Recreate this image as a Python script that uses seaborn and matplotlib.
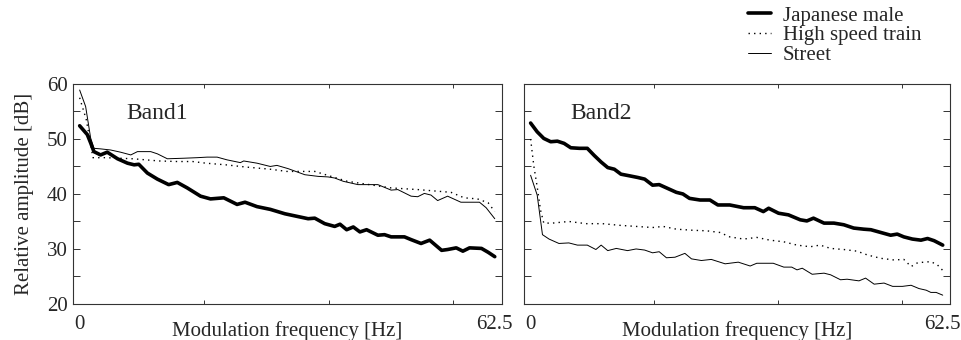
import numpy as np
import pandas as pd
import matplotlib
matplotlib.use("Agg")
import matplotlib.pyplot as plt
import seaborn as sns
from matplotlib.lines import Line2D

sns.set_style("ticks")
plt.rcParams['font.family'] = ['Liberation Serif', 'DejaVu Serif']

# Band1 curves (modulation frequency in Hz, relative amplitude in dB)
band1_male_f = [0, 1.15, 1.65, 2.15, 3.15, 4.15, 5.7, 7.2, 8.2, 8.9, 10.2, 11.7, 13.4, 14.7, 16.2,
                18.2, 19.7, 21.7, 23.7, 24.9, 26.7, 28.7, 30.9, 34.4, 35.4, 36.9, 38.4, 39.2, 40.2,
                41.2, 42.2, 43.2, 44.9, 45.9, 46.9, 48.9, 49.9, 51.4, 52.7, 54.5, 55.4, 56.7, 57.7,
                58.7, 60.5, 61.5, 62.5]
band1_male_db = [52.4, 50.8, 49.3, 47.7, 47.1, 47.6, 46.4, 45.6, 45.3, 45.4, 43.8, 42.7, 41.7, 42.1, 41.1,
                 39.6, 39.1, 39.3, 38.1, 38.5, 37.7, 37.2, 36.4, 35.5, 35.6, 34.6, 34.1, 34.5, 33.5,
                 34.0, 33.1, 33.5, 32.5, 32.6, 32.2, 32.2, 31.7, 31.0, 31.6, 29.75, 29.9, 30.2, 29.6,
                 30.2, 30.1, 29.4, 28.6]

band1_train_f = [0, 1.0, 2.0, 4, 6, 8, 10, 12, 14.7, 17, 19, 22, 25, 28.7, 31.2, 35.4, 40.3, 46.9,
                 50.9, 53.9, 55.9, 57.9, 59.9, 61.5, 62.5]
band1_train_db = [57.5, 53.5, 46.6, 46.6, 46.5, 46.4, 46.2, 46.0, 45.9, 45.9, 45.6, 45.3, 44.9, 44.5,
                  44.1, 44.1, 42.3, 41.1, 40.8, 40.5, 40.3, 39.3, 39.1, 38.4, 36.8]

band1_street_f = [0, 0.9, 1.65, 2.15, 3.15, 4.65, 6.15, 7.7, 8.7, 10.7, 11.7, 13.2, 15.7, 17.7, 19.2,
                  20.7, 22.2, 24.2, 24.7, 26.7, 28.7, 29.7, 31.4, 33.9, 35.9, 37.4, 38.4, 39.7, 41.9,
                  44.9, 46.9, 47.9, 49.9, 50.9, 51.9, 52.9, 53.9, 55.4, 57.4, 60.2, 61.2, 62.5]
band1_street_db = [58.9, 55.9, 50.2, 48.3, 48.2, 48.0, 47.6, 47.1, 47.7, 47.7, 47.3, 46.4, 46.5, 46.6, 46.7,
                   46.7, 46.2, 45.7, 46.0, 45.6, 45.0, 45.2, 44.6, 43.5, 43.2, 43.1, 42.9, 42.3, 41.7,
                   41.7, 40.7, 40.8, 39.6, 39.5, 40.1, 39.8, 38.8, 39.6, 38.5, 38.5, 37.5, 35.5]

# Band2 curves
band2_male_f = [0, 1.0, 2.0, 3.05, 4.06, 5.08, 6.1, 7.4, 8.6, 9.65, 10.7, 11.7, 12.7, 13.7, 15.0, 16.25,
                17.3, 18.5, 19.5, 20.8, 22.1, 23.1, 24.1, 25.7, 27.2, 28.4, 30.2, 32.3, 34.0, 35.3,
                36.1, 37.6, 39.1, 40.9, 41.9, 42.9, 44.5, 46.0, 47.5, 49.0, 50.5, 51.6, 53.1, 54.6,
                55.6, 56.6, 57.9, 59.2, 60.2, 61.2, 62.5]
band2_male_db = [52.9, 51.3, 50.1, 49.5, 49.6, 49.2, 48.4, 48.3, 48.3, 47.0, 45.8, 44.8, 44.5, 43.6, 43.3, 43.0,
                 42.7, 41.6, 41.7, 41.0, 40.3, 40.0, 39.2, 38.9, 38.9, 38.0, 38.0, 37.5, 37.5, 36.8,
                 37.4, 36.5, 36.2, 35.3, 35.1, 35.6, 34.7, 34.7, 34.4, 33.8, 33.6, 33.5, 33.0, 32.5,
                 32.7, 32.2, 31.8, 31.6, 31.9, 31.5, 30.7]

band2_train_f = [0, 0.5, 1.0, 1.5, 2.0, 3.3, 5.8, 8.4, 10.9, 13.5, 16.0, 18.5, 20.1, 22.1, 24.6, 26.7,
                 28.7, 30.2, 32.3, 34.3, 36.3, 38.4, 40.4, 42.4, 43.9, 45.5, 47.5, 49.5, 51.1, 53.1,
                 55.1, 56.6, 57.7, 58.7, 60.7, 61.7, 62.5]
band2_train_db = [50.0, 45.0, 41.3, 37.1, 34.7, 34.7, 35.0, 34.6, 34.6, 34.3, 34.1, 33.9, 34.1, 33.6, 33.4, 33.3,
                  33.0, 32.2, 31.8, 32.1, 31.6, 31.3, 30.7, 30.4, 30.7, 30.1, 29.9, 29.6, 28.9, 28.3,
                  28.0, 28.1, 26.8, 27.5, 27.7, 27.1, 26.1]

band2_street_f = [0, 1.0, 1.8, 2.8, 4.3, 5.8, 7.1, 8.6, 9.9, 10.7, 11.7, 13.0, 14.7, 16.0, 17.3, 18.5,
                  19.5, 20.6, 21.9, 23.4, 24.4, 25.9, 27.4, 29.5, 31.5, 33.3, 34.3, 36.8, 38.4, 39.6,
                  40.4, 41.2, 42.7, 44.5, 45.5, 47.0, 48.0, 49.8, 50.8, 52.1, 53.6, 54.9, 56.4, 57.7,
                  58.9, 60.0, 60.7, 61.5, 62.5]
band2_street_db = [43.4, 39.8, 32.6, 31.8, 31.0, 31.1, 30.7, 30.7, 29.9, 30.7, 29.7, 30.1, 29.7, 30.0, 29.8, 29.3,
                   29.5, 28.4, 28.5, 29.2, 28.2, 27.9, 28.1, 27.3, 27.6, 26.9, 27.4, 27.4, 26.7, 26.7,
                   26.2, 26.5, 25.4, 25.6, 25.3, 24.4, 24.5, 24.2, 24.7, 23.6, 23.8, 23.2, 23.2, 23.4,
                   22.8, 22.5, 22.1, 22.1, 21.6]

series_names = ["Japanese male", "High speed train", "Street"]
band_names = ["Band1", "Band2"]

# line styles for each source
styles = {
    "Japanese male": dict(color="black", linewidth=2.6, linestyle="-"),
    "High speed train": dict(color="black", linewidth=1.0, linestyle=(0, (1, 3))),
    "Street": dict(color="black", linewidth=0.7, linestyle="-"),
}

bands = [
    {"Japanese male": (band1_male_f, band1_male_db),
     "High speed train": (band1_train_f, band1_train_db),
     "Street": (band1_street_f, band1_street_db)},
    {"Japanese male": (band2_male_f, band2_male_db),
     "High speed train": (band2_train_f, band2_train_db),
     "Street": (band2_street_f, band2_street_db)},
]

fig = plt.figure(figsize=(9.62, 3.4), dpi=100)
ax1 = fig.add_axes([0.0759, 0.106, 0.446, 0.647])
ax2 = fig.add_axes([0.5447, 0.106, 0.4428, 0.647])
axes = [ax1, ax2]

for i, ax in enumerate(axes):
    for name in series_names:
        f, db = bands[i][name]
        sns.lineplot(x=f, y=db, ax=ax, **styles[name])

    ax.set_xlim(-1, 63.6)
    ax.set_ylim(20, 60)
    ax.set_xticks([0, 62.5])
    ax.set_xticklabels(["0", "62.5"])
    ax.set_xticks([18.75, 37.5, 56.25], minor=True)
    ax.set_yticks([20, 30, 40, 50, 60])
    ax.set_yticks([25, 35, 45, 55], minor=True)
    ax.tick_params(axis='both', which='both', direction='in', top=True, right=True,
                   color='#333333', width=0.7, labelsize=15, pad=4)
    ax.tick_params(axis='y', which='both', length=5)
    ax.tick_params(axis='x', which='major', length=0, pad=8)
    ax.tick_params(axis='x', which='minor', length=3)
    for sp in ax.spines.values():
        sp.set_linewidth(0.8)
        sp.set_color('#333333')
    ax.set_xlabel("Modulation frequency [Hz]", fontsize=15, labelpad=-9)
    ax.text(0.125 if i == 0 else 0.108, 0.865, band_names[i], transform=ax.transAxes,
            fontsize=17, va='center', ha='left')

ax1.set_ylabel("Relative amplitude [dB]", fontsize=15, labelpad=9)
ax2.set_ylabel("")
ax2.set_yticklabels([])

# legend sits above the right panel
handles = [Line2D([], [], **styles[n]) for n in series_names]
fig.legend(handles, series_names, loc='upper left', bbox_to_anchor=(0.762, 1.025),
           frameon=False, fontsize=15, handlelength=1.1, handletextpad=0.6,
           labelspacing=0.0, borderpad=0.2)

fig.savefig("out.png", dpi=100)
